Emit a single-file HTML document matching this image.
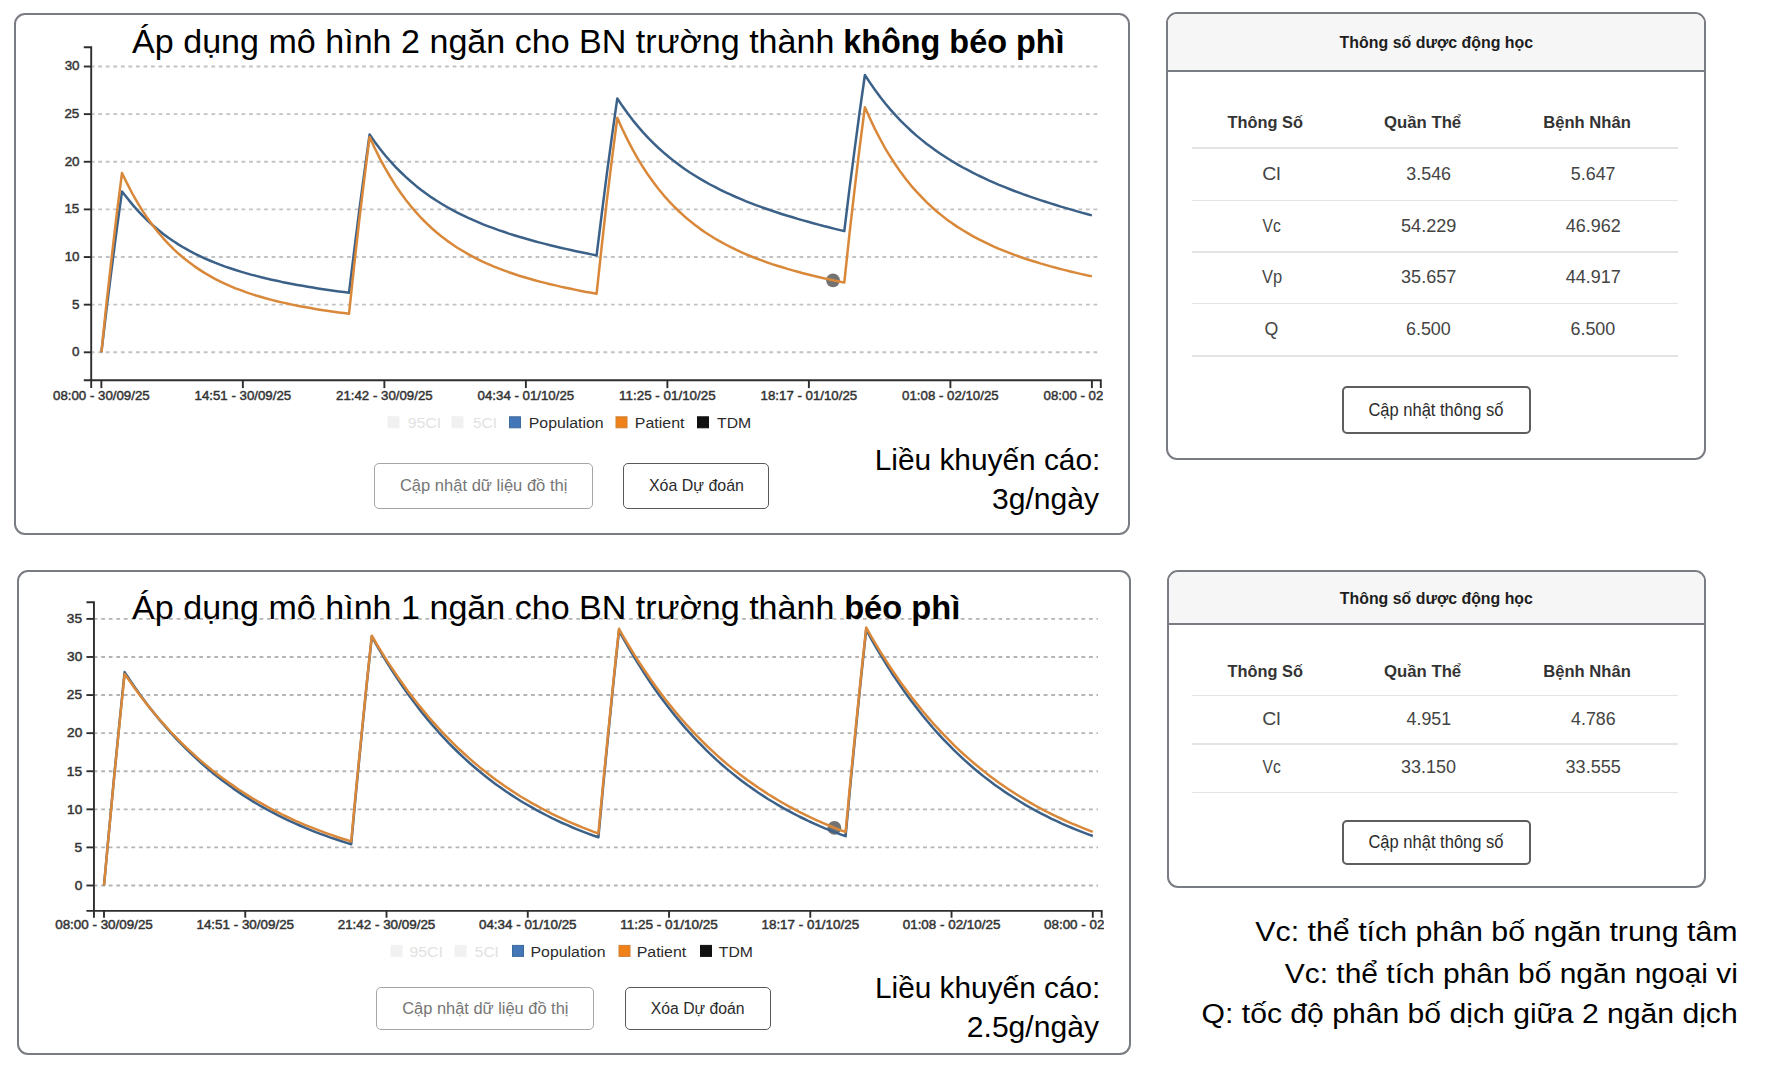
<!DOCTYPE html>
<html><head><meta charset="utf-8">
<style>
html,body{margin:0;padding:0;}
body{width:1767px;height:1069px;position:relative;overflow:hidden;background:#fff;font-family:"Liberation Sans",sans-serif;color:#000;}
.card{position:absolute;box-sizing:border-box;border:2px solid #797d83;border-radius:11px;background:#fff;overflow:hidden;}
.hdr{position:absolute;left:0;right:0;top:0;background:#f6f6f6;}
.hl{position:absolute;left:0;right:0;height:2px;background:#797d83;}
.sep{position:absolute;left:1192px;width:486px;height:1.5px;background:#e4e4e4;}
.btn{position:absolute;box-sizing:border-box;border-radius:5px;background:#fff;}
svg.ov{position:absolute;left:0;top:0;font-family:"Liberation Sans",sans-serif;}
.grid{stroke:#c2c2c2;stroke-width:1.9;stroke-dasharray:3.77 3.77;stroke-dashoffset:1.48;}
.gridB{stroke:#b4b4b4;stroke-dashoffset:1.32;}
.ax{stroke:#2e2e2e;stroke-width:1.9;fill:none;}
.pop{fill:none;stroke:#3b6189;stroke-width:2.5;stroke-linejoin:round;}
.pat{fill:none;stroke:#d9883a;stroke-width:2.5;stroke-linejoin:round;}
.tdm{fill:#5a5a5a;fill-opacity:0.85;}
</style></head><body>
<div class="card" style="left:14px;top:13px;width:1116px;height:522px;"></div>
<div class="card" style="left:17px;top:570px;width:1114px;height:485px;"></div>
<div class="card" style="left:1166px;top:12px;width:540px;height:448px;"><div class="hdr" style="height:58px;"></div><div class="hl" style="top:56px;"></div></div>
<div class="card" style="left:1167px;top:570px;width:539px;height:318px;"><div class="hdr" style="height:53px;"></div><div class="hl" style="top:51px;"></div></div>

<div class="sep" style="top:147.3px;"></div>
<div class="sep" style="top:199.8px;"></div>
<div class="sep" style="top:251px;"></div>
<div class="sep" style="top:302.6px;"></div>
<div class="sep" style="top:355.2px;"></div>
<div class="sep" style="top:694.6px;"></div>
<div class="sep" style="top:743.4px;"></div>
<div class="sep" style="top:791.7px;"></div>

<div class="btn" style="left:1342px;top:386px;width:189px;height:48px;border:2px solid #5e5e5e;"></div>
<div class="btn" style="left:1342px;top:820px;width:189px;height:45px;border:2px solid #5e5e5e;"></div>

<div class="btn" style="left:374px;top:462.5px;width:219px;height:46px;border:1.6px solid #a6a6a6;"></div>
<div class="btn" style="left:623px;top:462.5px;width:146px;height:46px;border:1.6px solid #5a5a5a;"></div>
<div class="btn" style="left:376px;top:987px;width:218px;height:43px;border:1.6px solid #a6a6a6;"></div>
<div class="btn" style="left:624.5px;top:987px;width:146px;height:43px;border:1.6px solid #5a5a5a;"></div>

<svg class="ov" width="1767" height="1069" viewBox="0 0 1767 1069">
<defs>
<clipPath id="clipT"><rect x="0" y="382" width="1103" height="40"/></clipPath>
<clipPath id="clipB"><rect x="0" y="913" width="1104" height="40"/></clipPath>
</defs>
<line x1="92.2" y1="352.30" x2="1098" y2="352.30" class="grid"/>
<line x1="92.2" y1="304.67" x2="1098" y2="304.67" class="grid"/>
<line x1="92.2" y1="257.03" x2="1098" y2="257.03" class="grid"/>
<line x1="92.2" y1="209.40" x2="1098" y2="209.40" class="grid"/>
<line x1="92.2" y1="161.77" x2="1098" y2="161.77" class="grid"/>
<line x1="92.2" y1="114.13" x2="1098" y2="114.13" class="grid"/>
<line x1="92.2" y1="66.50" x2="1098" y2="66.50" class="grid"/>
<path d="M83.80,47.20 H91.20 V380.20 H83.80" class="ax"/>
<path d="M91.20,388.10 V380.20 H1100.80 V388.10" class="ax"/>
<line x1="83.80" y1="352.30" x2="91.20" y2="352.30" class="ax"/>
<text x="72.09" y="356.20" font-size="13.40" font-weight="normal" fill="#333" stroke="#333" stroke-width="0.45" textLength="7.45" lengthAdjust="spacingAndGlyphs">0</text>
<line x1="83.80" y1="304.67" x2="91.20" y2="304.67" class="ax"/>
<text x="71.88" y="308.57" font-size="13.40" font-weight="normal" fill="#333" stroke="#333" stroke-width="0.45" textLength="7.45" lengthAdjust="spacingAndGlyphs">5</text>
<line x1="83.80" y1="257.03" x2="91.20" y2="257.03" class="ax"/>
<text x="64.64" y="260.93" font-size="13.40" font-weight="normal" fill="#333" stroke="#333" stroke-width="0.45" textLength="14.90" lengthAdjust="spacingAndGlyphs">10</text>
<line x1="83.80" y1="209.40" x2="91.20" y2="209.40" class="ax"/>
<text x="64.43" y="213.30" font-size="13.40" font-weight="normal" fill="#333" stroke="#333" stroke-width="0.45" textLength="14.90" lengthAdjust="spacingAndGlyphs">15</text>
<line x1="83.80" y1="161.77" x2="91.20" y2="161.77" class="ax"/>
<text x="64.64" y="165.67" font-size="13.40" font-weight="normal" fill="#333" stroke="#333" stroke-width="0.45" textLength="14.90" lengthAdjust="spacingAndGlyphs">20</text>
<line x1="83.80" y1="114.13" x2="91.20" y2="114.13" class="ax"/>
<text x="64.43" y="118.03" font-size="13.40" font-weight="normal" fill="#333" stroke="#333" stroke-width="0.45" textLength="14.90" lengthAdjust="spacingAndGlyphs">25</text>
<line x1="83.80" y1="66.50" x2="91.20" y2="66.50" class="ax"/>
<text x="64.64" y="70.40" font-size="13.40" font-weight="normal" fill="#333" stroke="#333" stroke-width="0.45" textLength="14.90" lengthAdjust="spacingAndGlyphs">30</text>
<line x1="101.36" y1="380.20" x2="101.36" y2="388.10" class="ax"/>
<line x1="242.87" y1="380.20" x2="242.87" y2="388.10" class="ax"/>
<line x1="384.37" y1="380.20" x2="384.37" y2="388.10" class="ax"/>
<line x1="525.88" y1="380.20" x2="525.88" y2="388.10" class="ax"/>
<line x1="667.38" y1="380.20" x2="667.38" y2="388.10" class="ax"/>
<line x1="808.89" y1="380.20" x2="808.89" y2="388.10" class="ax"/>
<line x1="950.39" y1="380.20" x2="950.39" y2="388.10" class="ax"/>
<line x1="1091.90" y1="380.20" x2="1091.90" y2="388.10" class="ax"/>
<g clip-path="url(#clipT)">
<text x="101.36" y="399.80" font-size="13.00" font-weight="normal" fill="#333" stroke="#333" stroke-width="0.45" text-anchor="middle" textLength="96.60" lengthAdjust="spacingAndGlyphs">08:00 - 30/09/25</text>
<text x="242.87" y="399.80" font-size="13.00" font-weight="normal" fill="#333" stroke="#333" stroke-width="0.45" text-anchor="middle" textLength="96.60" lengthAdjust="spacingAndGlyphs">14:51 - 30/09/25</text>
<text x="384.37" y="399.80" font-size="13.00" font-weight="normal" fill="#333" stroke="#333" stroke-width="0.45" text-anchor="middle" textLength="96.60" lengthAdjust="spacingAndGlyphs">21:42 - 30/09/25</text>
<text x="525.88" y="399.80" font-size="13.00" font-weight="normal" fill="#333" stroke="#333" stroke-width="0.45" text-anchor="middle" textLength="96.60" lengthAdjust="spacingAndGlyphs">04:34 - 01/10/25</text>
<text x="667.38" y="399.80" font-size="13.00" font-weight="normal" fill="#333" stroke="#333" stroke-width="0.45" text-anchor="middle" textLength="96.60" lengthAdjust="spacingAndGlyphs">11:25 - 01/10/25</text>
<text x="808.89" y="399.80" font-size="13.00" font-weight="normal" fill="#333" stroke="#333" stroke-width="0.45" text-anchor="middle" textLength="96.60" lengthAdjust="spacingAndGlyphs">18:17 - 01/10/25</text>
<text x="950.39" y="399.80" font-size="13.00" font-weight="normal" fill="#333" stroke="#333" stroke-width="0.45" text-anchor="middle" textLength="96.60" lengthAdjust="spacingAndGlyphs">01:08 - 02/10/25</text>
<text x="1091.90" y="399.80" font-size="13.00" font-weight="normal" fill="#333" stroke="#333" stroke-width="0.45" text-anchor="middle" textLength="96.60" lengthAdjust="spacingAndGlyphs">08:00 - 02/10/25</text>
</g>
<circle cx="833.0" cy="280.3" r="6.9" class="tdm"/>
<path d="M101.4,352.3 L106.5,309.4 L111.7,268.3 L116.8,229.0 L122.0,191.4 L127.2,198.1 L132.3,204.4 L137.5,210.3 L142.6,215.7 L147.8,220.8 L153.0,225.5 L158.1,229.8 L163.3,233.9 L168.4,237.7 L173.6,241.3 L178.7,244.6 L183.9,247.7 L189.1,250.6 L194.2,253.3 L199.4,255.9 L204.5,258.3 L209.7,260.5 L214.9,262.7 L220.0,264.7 L225.2,266.6 L230.3,268.3 L235.5,270.0 L240.7,271.6 L245.8,273.1 L251.0,274.6 L256.1,275.9 L261.3,277.2 L266.4,278.5 L271.6,279.7 L276.8,280.8 L281.9,281.9 L287.1,282.9 L292.2,283.9 L297.4,284.9 L302.6,285.8 L307.7,286.7 L312.9,287.5 L318.0,288.4 L323.2,289.2 L328.4,289.9 L333.5,290.7 L338.7,291.4 L343.8,292.1 L349.0,292.8 L354.2,250.6 L359.3,210.2 L364.5,171.5 L369.6,134.5 L374.8,141.9 L379.9,148.7 L385.1,155.2 L390.3,161.2 L395.4,166.8 L400.6,172.0 L405.7,176.9 L410.9,181.5 L416.1,185.9 L421.2,189.9 L426.4,193.8 L431.5,197.4 L436.7,200.8 L441.9,204.0 L447.0,207.0 L452.2,209.9 L457.3,212.6 L462.5,215.1 L467.7,217.6 L472.8,219.9 L478.0,222.1 L483.1,224.3 L488.3,226.3 L493.4,228.2 L498.6,230.1 L503.8,231.8 L508.9,233.6 L514.1,235.2 L519.2,236.8 L524.4,238.3 L529.6,239.8 L534.7,241.2 L539.9,242.6 L545.0,243.9 L550.2,245.2 L555.4,246.5 L560.5,247.7 L565.7,248.9 L570.8,250.0 L576.0,251.2 L581.2,252.3 L586.3,253.3 L591.5,254.4 L596.6,255.4 L601.8,213.5 L606.9,173.4 L612.1,135.1 L617.3,98.4 L622.4,106.1 L627.6,113.3 L632.7,120.1 L637.9,126.4 L643.1,132.3 L648.2,137.8 L653.4,143.1 L658.5,148.0 L663.7,152.6 L668.9,157.0 L674.0,161.1 L679.2,165.0 L684.3,168.7 L689.5,172.2 L694.7,175.5 L699.8,178.6 L705.0,181.6 L710.1,184.5 L715.3,187.2 L720.4,189.8 L725.6,192.3 L730.8,194.7 L735.9,197.0 L741.1,199.2 L746.2,201.3 L751.4,203.3 L756.6,205.3 L761.7,207.2 L766.9,209.0 L772.0,210.8 L777.2,212.5 L782.4,214.2 L787.5,215.8 L792.7,217.3 L797.8,218.9 L803.0,220.4 L808.2,221.8 L813.3,223.2 L818.5,224.6 L823.6,226.0 L828.8,227.3 L833.9,228.6 L839.1,229.9 L844.3,231.1 L849.4,189.4 L854.6,149.6 L859.7,111.5 L864.9,75.0 L870.1,82.9 L875.2,90.3 L880.4,97.3 L885.5,103.8 L890.7,109.9 L895.9,115.7 L901.0,121.1 L906.2,126.2 L911.3,131.0 L916.5,135.6 L921.7,139.9 L926.8,144.0 L932.0,147.8 L937.1,151.5 L942.3,155.0 L947.4,158.3 L952.6,161.5 L957.8,164.6 L962.9,167.5 L968.1,170.2 L973.2,172.9 L978.4,175.5 L983.6,177.9 L988.7,180.3 L993.9,182.6 L999.0,184.8 L1004.2,186.9 L1009.4,189.0 L1014.5,191.0 L1019.7,192.9 L1024.8,194.8 L1030.0,196.6 L1035.2,198.4 L1040.3,200.1 L1045.5,201.8 L1050.6,203.4 L1055.8,205.0 L1060.9,206.6 L1066.1,208.1 L1071.3,209.6 L1076.4,211.1 L1081.6,212.6 L1086.7,214.0 L1091.9,215.4" class="pop"/>
<path d="M101.4,352.3 L106.5,303.2 L111.7,257.1 L116.8,213.7 L122.0,173.0 L127.2,183.7 L132.3,193.5 L137.5,202.6 L142.6,210.9 L147.8,218.6 L153.0,225.7 L158.1,232.3 L163.3,238.3 L168.4,243.9 L173.6,249.1 L178.7,253.8 L183.9,258.3 L189.1,262.3 L194.2,266.1 L199.4,269.6 L204.5,272.9 L209.7,275.9 L214.9,278.8 L220.0,281.4 L225.2,283.8 L230.3,286.1 L235.5,288.3 L240.7,290.2 L245.8,292.1 L251.0,293.9 L256.1,295.5 L261.3,297.0 L266.4,298.5 L271.6,299.9 L276.8,301.2 L281.9,302.4 L287.1,303.5 L292.2,304.6 L297.4,305.7 L302.6,306.7 L307.7,307.6 L312.9,308.5 L318.0,309.4 L323.2,310.2 L328.4,311.0 L333.5,311.7 L338.7,312.4 L343.8,313.1 L349.0,313.8 L354.2,265.3 L359.3,219.8 L364.5,177.1 L369.6,136.9 L374.8,148.2 L379.9,158.6 L385.1,168.2 L390.3,177.0 L395.4,185.2 L400.6,192.8 L405.7,199.8 L410.9,206.3 L416.1,212.4 L421.2,218.0 L426.4,223.2 L431.5,228.0 L436.7,232.5 L441.9,236.7 L447.0,240.6 L452.2,244.2 L457.3,247.7 L462.5,250.8 L467.7,253.8 L472.8,256.6 L478.0,259.3 L483.1,261.8 L488.3,264.1 L493.4,266.3 L498.6,268.4 L503.8,270.3 L508.9,272.2 L514.1,274.0 L519.2,275.7 L524.4,277.3 L529.6,278.8 L534.7,280.2 L539.9,281.6 L545.0,282.9 L550.2,284.2 L555.4,285.4 L560.5,286.6 L565.7,287.7 L570.8,288.8 L576.0,289.9 L581.2,290.9 L586.3,291.9 L591.5,292.8 L596.6,293.7 L601.8,245.5 L606.9,200.2 L612.1,157.8 L617.3,117.8 L622.4,129.3 L627.6,139.9 L632.7,149.7 L637.9,158.8 L643.1,167.3 L648.2,175.1 L653.4,182.3 L658.5,189.0 L663.7,195.3 L668.9,201.1 L674.0,206.5 L679.2,211.5 L684.3,216.2 L689.5,220.6 L694.7,224.7 L699.8,228.6 L705.0,232.2 L710.1,235.5 L715.3,238.7 L720.4,241.7 L725.6,244.5 L730.8,247.2 L735.9,249.7 L741.1,252.1 L746.2,254.3 L751.4,256.5 L756.6,258.5 L761.7,260.4 L766.9,262.3 L772.0,264.1 L777.2,265.7 L782.4,267.3 L787.5,268.9 L792.7,270.4 L797.8,271.8 L803.0,273.2 L808.2,274.5 L813.3,275.8 L818.5,277.0 L823.6,278.2 L828.8,279.3 L833.9,280.5 L839.1,281.5 L844.3,282.6 L849.4,234.5 L854.6,189.4 L859.7,147.0 L864.9,107.2 L870.1,118.8 L875.2,129.6 L880.4,139.5 L885.5,148.8 L890.7,157.3 L895.9,165.2 L901.0,172.6 L906.2,179.4 L911.3,185.8 L916.5,191.7 L921.7,197.2 L926.8,202.4 L932.0,207.2 L937.1,211.7 L942.3,215.9 L947.4,219.9 L952.6,223.6 L957.8,227.1 L962.9,230.3 L968.1,233.4 L973.2,236.4 L978.4,239.1 L983.6,241.7 L988.7,244.2 L993.9,246.6 L999.0,248.8 L1004.2,250.9 L1009.4,252.9 L1014.5,254.9 L1019.7,256.7 L1024.8,258.5 L1030.0,260.2 L1035.2,261.8 L1040.3,263.4 L1045.5,264.9 L1050.6,266.4 L1055.8,267.8 L1060.9,269.1 L1066.1,270.4 L1071.3,271.7 L1076.4,272.9 L1081.6,274.1 L1086.7,275.3 L1091.9,276.4" class="pat"/>
<line x1="95.0" y1="885.50" x2="1098" y2="885.50" class="grid gridB"/>
<line x1="95.0" y1="847.41" x2="1098" y2="847.41" class="grid gridB"/>
<line x1="95.0" y1="809.33" x2="1098" y2="809.33" class="grid gridB"/>
<line x1="95.0" y1="771.24" x2="1098" y2="771.24" class="grid gridB"/>
<line x1="95.0" y1="733.16" x2="1098" y2="733.16" class="grid gridB"/>
<line x1="95.0" y1="695.07" x2="1098" y2="695.07" class="grid gridB"/>
<line x1="95.0" y1="656.99" x2="1098" y2="656.99" class="grid gridB"/>
<line x1="95.0" y1="618.90" x2="1098" y2="618.90" class="grid gridB"/>
<path d="M86.45,602.20 H93.95 V910.90 H86.45" class="ax"/>
<path d="M93.95,917.70 V910.90 H1101.70 V917.70" class="ax"/>
<line x1="86.45" y1="885.50" x2="93.95" y2="885.50" class="ax"/>
<text x="74.65" y="889.80" font-size="12.20" font-weight="normal" fill="#333" stroke="#333" stroke-width="0.45" textLength="7.60" lengthAdjust="spacingAndGlyphs">0</text>
<line x1="86.45" y1="847.41" x2="93.95" y2="847.41" class="ax"/>
<text x="74.44" y="851.71" font-size="12.20" font-weight="normal" fill="#333" stroke="#333" stroke-width="0.45" textLength="7.60" lengthAdjust="spacingAndGlyphs">5</text>
<line x1="86.45" y1="809.33" x2="93.95" y2="809.33" class="ax"/>
<text x="67.06" y="813.63" font-size="12.20" font-weight="normal" fill="#333" stroke="#333" stroke-width="0.45" textLength="15.20" lengthAdjust="spacingAndGlyphs">10</text>
<line x1="86.45" y1="771.24" x2="93.95" y2="771.24" class="ax"/>
<text x="66.84" y="775.54" font-size="12.20" font-weight="normal" fill="#333" stroke="#333" stroke-width="0.45" textLength="15.20" lengthAdjust="spacingAndGlyphs">15</text>
<line x1="86.45" y1="733.16" x2="93.95" y2="733.16" class="ax"/>
<text x="67.06" y="737.46" font-size="12.20" font-weight="normal" fill="#333" stroke="#333" stroke-width="0.45" textLength="15.20" lengthAdjust="spacingAndGlyphs">20</text>
<line x1="86.45" y1="695.07" x2="93.95" y2="695.07" class="ax"/>
<text x="66.84" y="699.37" font-size="12.20" font-weight="normal" fill="#333" stroke="#333" stroke-width="0.45" textLength="15.20" lengthAdjust="spacingAndGlyphs">25</text>
<line x1="86.45" y1="656.99" x2="93.95" y2="656.99" class="ax"/>
<text x="67.06" y="661.29" font-size="12.20" font-weight="normal" fill="#333" stroke="#333" stroke-width="0.45" textLength="15.20" lengthAdjust="spacingAndGlyphs">30</text>
<line x1="86.45" y1="618.90" x2="93.95" y2="618.90" class="ax"/>
<text x="66.84" y="623.20" font-size="12.20" font-weight="normal" fill="#333" stroke="#333" stroke-width="0.45" textLength="15.20" lengthAdjust="spacingAndGlyphs">35</text>
<line x1="104.00" y1="910.90" x2="104.00" y2="917.70" class="ax"/>
<line x1="245.26" y1="910.90" x2="245.26" y2="917.70" class="ax"/>
<line x1="386.51" y1="910.90" x2="386.51" y2="917.70" class="ax"/>
<line x1="527.77" y1="910.90" x2="527.77" y2="917.70" class="ax"/>
<line x1="669.03" y1="910.90" x2="669.03" y2="917.70" class="ax"/>
<line x1="810.29" y1="910.90" x2="810.29" y2="917.70" class="ax"/>
<line x1="951.54" y1="910.90" x2="951.54" y2="917.70" class="ax"/>
<line x1="1092.80" y1="910.90" x2="1092.80" y2="917.70" class="ax"/>
<g clip-path="url(#clipB)">
<text x="104.00" y="929.40" font-size="12.00" font-weight="normal" fill="#333" stroke="#333" stroke-width="0.45" text-anchor="middle" textLength="97.60" lengthAdjust="spacingAndGlyphs">08:00 - 30/09/25</text>
<text x="245.26" y="929.40" font-size="12.00" font-weight="normal" fill="#333" stroke="#333" stroke-width="0.45" text-anchor="middle" textLength="97.60" lengthAdjust="spacingAndGlyphs">14:51 - 30/09/25</text>
<text x="386.51" y="929.40" font-size="12.00" font-weight="normal" fill="#333" stroke="#333" stroke-width="0.45" text-anchor="middle" textLength="97.60" lengthAdjust="spacingAndGlyphs">21:42 - 30/09/25</text>
<text x="527.77" y="929.40" font-size="12.00" font-weight="normal" fill="#333" stroke="#333" stroke-width="0.45" text-anchor="middle" textLength="97.60" lengthAdjust="spacingAndGlyphs">04:34 - 01/10/25</text>
<text x="669.03" y="929.40" font-size="12.00" font-weight="normal" fill="#333" stroke="#333" stroke-width="0.45" text-anchor="middle" textLength="97.60" lengthAdjust="spacingAndGlyphs">11:25 - 01/10/25</text>
<text x="810.29" y="929.40" font-size="12.00" font-weight="normal" fill="#333" stroke="#333" stroke-width="0.45" text-anchor="middle" textLength="97.60" lengthAdjust="spacingAndGlyphs">18:17 - 01/10/25</text>
<text x="951.54" y="929.40" font-size="12.00" font-weight="normal" fill="#333" stroke="#333" stroke-width="0.45" text-anchor="middle" textLength="97.60" lengthAdjust="spacingAndGlyphs">01:08 - 02/10/25</text>
<text x="1092.80" y="929.40" font-size="12.00" font-weight="normal" fill="#333" stroke="#333" stroke-width="0.45" text-anchor="middle" textLength="97.60" lengthAdjust="spacingAndGlyphs">08:00 - 02/10/25</text>
</g>
<circle cx="834.4" cy="827.9" r="6.9" class="tdm"/>
<path d="M104.0,885.5 L109.2,829.1 L114.3,774.8 L119.5,722.5 L124.6,672.1 L129.8,679.9 L134.9,687.4 L140.1,694.7 L145.2,701.7 L150.3,708.4 L155.5,714.9 L160.6,721.1 L165.8,727.2 L170.9,733.0 L176.1,738.6 L181.2,743.9 L186.4,749.1 L191.6,754.1 L196.7,758.9 L201.8,763.6 L207.0,768.1 L212.1,772.4 L217.3,776.5 L222.4,780.5 L227.6,784.3 L232.8,788.1 L237.9,791.6 L243.0,795.1 L248.2,798.4 L253.3,801.6 L258.5,804.7 L263.6,807.6 L268.8,810.5 L273.9,813.2 L279.1,815.9 L284.2,818.4 L289.4,820.9 L294.5,823.2 L299.7,825.5 L304.8,827.7 L310.0,829.8 L315.1,831.9 L320.3,833.8 L325.4,835.7 L330.6,837.6 L335.8,839.3 L340.9,841.0 L346.0,842.6 L351.2,844.2 L356.3,789.3 L361.5,736.5 L366.6,685.6 L371.8,636.5 L376.9,645.6 L382.1,654.4 L387.2,662.9 L392.4,671.0 L397.5,678.9 L402.7,686.5 L407.8,693.8 L413.0,700.8 L418.1,707.6 L423.3,714.1 L428.4,720.4 L433.6,726.4 L438.7,732.3 L443.9,737.9 L449.0,743.3 L454.2,748.5 L459.3,753.5 L464.5,758.3 L469.6,763.0 L474.8,767.5 L479.9,771.8 L485.1,776.0 L490.2,780.0 L495.4,783.9 L500.5,787.6 L505.7,791.2 L510.8,794.6 L516.0,798.0 L521.1,801.2 L526.3,804.3 L531.4,807.2 L536.6,810.1 L541.8,812.9 L546.9,815.5 L552.0,818.1 L557.2,820.6 L562.3,823.0 L567.5,825.2 L572.6,827.5 L577.8,829.6 L582.9,831.6 L588.1,833.6 L593.2,835.5 L598.4,837.3 L603.5,782.7 L608.7,730.1 L613.8,679.4 L619.0,630.6 L624.1,639.9 L629.3,648.9 L634.4,657.6 L639.6,665.9 L644.8,674.0 L649.9,681.7 L655.0,689.2 L660.2,696.4 L665.3,703.3 L670.5,710.0 L675.6,716.4 L680.8,722.6 L685.9,728.6 L691.1,734.4 L696.2,739.9 L701.4,745.2 L706.5,750.4 L711.7,755.3 L716.8,760.1 L722.0,764.7 L727.1,769.1 L732.3,773.4 L737.4,777.5 L742.6,781.5 L747.7,785.3 L752.9,788.9 L758.0,792.5 L763.2,795.9 L768.3,799.2 L773.5,802.3 L778.6,805.4 L783.8,808.3 L788.9,811.1 L794.1,813.9 L799.2,816.5 L804.4,819.0 L809.5,821.5 L814.7,823.8 L819.8,826.1 L825.0,828.3 L830.1,830.3 L835.3,832.4 L840.4,834.3 L845.6,836.2 L850.7,781.6 L855.9,729.0 L861.0,678.4 L866.2,629.6 L871.3,639.0 L876.5,648.0 L881.6,656.7 L886.8,665.1 L891.9,673.2 L897.1,680.9 L902.2,688.4 L907.4,695.7 L912.5,702.6 L917.7,709.3 L922.8,715.8 L928.0,722.0 L933.1,728.0 L938.3,733.8 L943.4,739.3 L948.6,744.7 L953.7,749.8 L958.9,754.8 L964.0,759.6 L969.2,764.2 L974.3,768.7 L979.5,773.0 L984.6,777.1 L989.8,781.1 L994.9,784.9 L1000.1,788.6 L1005.2,792.1 L1010.4,795.5 L1015.5,798.8 L1020.7,802.0 L1025.8,805.1 L1031.0,808.0 L1036.1,810.9 L1041.3,813.6 L1046.4,816.2 L1051.6,818.8 L1056.8,821.2 L1061.9,823.6 L1067.0,825.8 L1072.2,828.0 L1077.3,830.1 L1082.5,832.2 L1087.6,834.1 L1092.8,836.0" class="pop"/>
<path d="M104.0,885.5 L109.2,829.7 L114.3,775.9 L119.5,724.0 L124.6,673.9 L129.8,681.3 L134.9,688.5 L140.1,695.4 L145.2,702.1 L150.3,708.5 L155.5,714.7 L160.6,720.7 L165.8,726.4 L170.9,732.0 L176.1,737.4 L181.2,742.6 L186.4,747.6 L191.6,752.4 L196.7,757.1 L201.8,761.6 L207.0,765.9 L212.1,770.1 L217.3,774.2 L222.4,778.1 L227.6,781.8 L232.8,785.4 L237.9,789.0 L243.0,792.3 L248.2,795.6 L253.3,798.7 L258.5,801.8 L263.6,804.7 L268.8,807.5 L273.9,810.3 L279.1,812.9 L284.2,815.5 L289.4,817.9 L294.5,820.3 L299.7,822.6 L304.8,824.8 L310.0,826.9 L315.1,828.9 L320.3,830.9 L325.4,832.8 L330.6,834.7 L335.8,836.5 L340.9,838.2 L346.0,839.8 L351.2,841.4 L356.3,787.2 L361.5,734.9 L366.6,684.4 L371.8,635.7 L376.9,644.5 L382.1,652.9 L387.2,661.1 L392.4,668.9 L397.5,676.5 L402.7,683.8 L407.8,690.9 L413.0,697.7 L418.1,704.3 L423.3,710.6 L428.4,716.8 L433.6,722.7 L438.7,728.4 L443.9,733.9 L449.0,739.2 L454.2,744.3 L459.3,749.3 L464.5,754.0 L469.6,758.6 L474.8,763.1 L479.9,767.4 L485.1,771.5 L490.2,775.5 L495.4,779.4 L500.5,783.1 L505.7,786.7 L510.8,790.1 L516.0,793.5 L521.1,796.7 L526.3,799.8 L531.4,802.8 L536.6,805.7 L541.8,808.5 L546.9,811.2 L552.0,813.8 L557.2,816.3 L562.3,818.7 L567.5,821.1 L572.6,823.3 L577.8,825.5 L582.9,827.6 L588.1,829.6 L593.2,831.6 L598.4,833.5 L603.5,779.6 L608.7,727.5 L613.8,677.3 L619.0,628.8 L624.1,637.8 L629.3,646.5 L634.4,654.9 L639.6,663.0 L644.8,670.7 L649.9,678.3 L655.0,685.5 L660.2,692.5 L665.3,699.3 L670.5,705.8 L675.6,712.1 L680.8,718.2 L685.9,724.0 L691.1,729.7 L696.2,735.2 L701.4,740.4 L706.5,745.5 L711.7,750.4 L716.8,755.1 L722.0,759.7 L727.1,764.1 L732.3,768.4 L737.4,772.5 L742.6,776.4 L747.7,780.3 L752.9,783.9 L758.0,787.5 L763.2,790.9 L768.3,794.2 L773.5,797.4 L778.6,800.5 L783.8,803.5 L788.9,806.4 L794.1,809.1 L799.2,811.8 L804.4,814.4 L809.5,816.9 L814.7,819.3 L819.8,821.6 L825.0,823.9 L830.1,826.0 L835.3,828.1 L840.4,830.1 L845.6,832.0 L850.7,778.2 L855.9,726.2 L861.0,676.0 L866.2,627.6 L871.3,636.6 L876.5,645.3 L881.6,653.8 L886.8,661.9 L891.9,669.7 L897.1,677.3 L902.2,684.6 L907.4,691.6 L912.5,698.4 L917.7,704.9 L922.8,711.3 L928.0,717.4 L933.1,723.3 L938.3,728.9 L943.4,734.4 L948.6,739.7 L953.7,744.8 L958.9,749.8 L964.0,754.5 L969.2,759.1 L974.3,763.5 L979.5,767.8 L984.6,771.9 L989.8,775.9 L994.9,779.7 L1000.1,783.4 L1005.2,787.0 L1010.4,790.5 L1015.5,793.8 L1020.7,797.0 L1025.8,800.1 L1031.0,803.1 L1036.1,806.0 L1041.3,808.8 L1046.4,811.5 L1051.6,814.1 L1056.8,816.6 L1061.9,819.0 L1067.0,821.3 L1072.2,823.6 L1077.3,825.7 L1082.5,827.8 L1087.6,829.8 L1092.8,831.8" class="pat"/>
<rect x="388.0" y="416.8" width="11" height="11" fill="#f1f1f1" stroke="#f1f1f1" stroke-width="1"/>
<rect x="452.0" y="416.8" width="11" height="11" fill="#f1f1f1" stroke="#f1f1f1" stroke-width="1"/>
<rect x="509.5" y="416.8" width="11" height="11" fill="#4377b8" stroke="#3d6a9c" stroke-width="1"/>
<rect x="616.0" y="416.8" width="11" height="11" fill="#f08018" stroke="#cf8035" stroke-width="1"/>
<rect x="697.5" y="416.8" width="11" height="11" fill="#111" stroke="#111" stroke-width="1"/>
<rect x="391.0" y="945.4" width="11" height="11" fill="#f1f1f1" stroke="#f1f1f1" stroke-width="1"/>
<rect x="455.0" y="945.4" width="11" height="11" fill="#f1f1f1" stroke="#f1f1f1" stroke-width="1"/>
<rect x="512.5" y="945.4" width="11" height="11" fill="#4377b8" stroke="#3d6a9c" stroke-width="1"/>
<rect x="619.0" y="945.4" width="11" height="11" fill="#f08018" stroke="#cf8035" stroke-width="1"/>
<rect x="700.5" y="945.4" width="11" height="11" fill="#111" stroke="#111" stroke-width="1"/>
<text x="132.10" y="52.80" font-size="33.80" font-weight="normal" fill="#000" textLength="702.31" lengthAdjust="spacingAndGlyphs">Áp dụng mô hình 2 ngăn cho BN trường thành</text>
<text x="843.18" y="52.80" font-size="33.80" font-weight="bold" fill="#000" textLength="221.34" lengthAdjust="spacingAndGlyphs">không béo phì</text>
<text x="132.10" y="619.30" font-size="33.80" font-weight="normal" fill="#000" textLength="702.31" lengthAdjust="spacingAndGlyphs">Áp dụng mô hình 1 ngăn cho BN trường thành</text>
<text x="844.16" y="619.30" font-size="33.80" font-weight="bold" fill="#000" textLength="116.07" lengthAdjust="spacingAndGlyphs">béo phì</text>
<text x="874.67" y="470.40" font-size="28.70" font-weight="normal" fill="#000" textLength="225.73" lengthAdjust="spacingAndGlyphs">Liều khuyến cáo:</text>
<text x="992.06" y="509.30" font-size="28.70" font-weight="normal" fill="#000" textLength="106.94" lengthAdjust="spacingAndGlyphs">3g/ngày</text>
<text x="874.97" y="997.50" font-size="28.70" font-weight="normal" fill="#000" textLength="225.42" lengthAdjust="spacingAndGlyphs">Liều khuyến cáo:</text>
<text x="966.79" y="1037.20" font-size="28.70" font-weight="normal" fill="#000" textLength="132.21" lengthAdjust="spacingAndGlyphs">2.5g/ngày</text>
<text x="1255.30" y="940.80" font-size="28.40" font-weight="normal" fill="#000" textLength="482.27" lengthAdjust="spacingAndGlyphs">Vc: thể tích phân bố ngăn trung tâm</text>
<text x="1284.70" y="983.30" font-size="28.40" font-weight="normal" fill="#000" textLength="453.28" lengthAdjust="spacingAndGlyphs">Vc: thể tích phân bố ngăn ngoại vi</text>
<text x="1201.59" y="1023.40" font-size="28.40" font-weight="normal" fill="#000" textLength="536.10" lengthAdjust="spacingAndGlyphs">Q: tốc độ phân bố dịch giữa 2 ngăn dịch</text>
<text x="399.92" y="491.40" font-size="16.60" font-weight="normal" fill="#767676" textLength="167.47" lengthAdjust="spacingAndGlyphs">Cập nhật dữ liệu đồ thị</text>
<text x="648.95" y="491.40" font-size="16.60" font-weight="normal" fill="#2b2b2b" textLength="95.05" lengthAdjust="spacingAndGlyphs">Xóa Dự đoán</text>
<text x="402.23" y="1014.00" font-size="16.00" font-weight="normal" fill="#767676" textLength="166.25" lengthAdjust="spacingAndGlyphs">Cập nhật dữ liệu đồ thị</text>
<text x="650.75" y="1014.00" font-size="16.00" font-weight="normal" fill="#2b2b2b" textLength="93.73" lengthAdjust="spacingAndGlyphs">Xóa Dự đoán</text>
<text x="407.76" y="428.40" font-size="15.40" font-weight="normal" fill="#e2e2e2" textLength="33.37" lengthAdjust="spacingAndGlyphs">95CI</text>
<text x="473.02" y="428.40" font-size="15.40" font-weight="normal" fill="#e2e2e2" textLength="23.97" lengthAdjust="spacingAndGlyphs">5CI</text>
<text x="528.76" y="428.40" font-size="15.40" font-weight="normal" fill="#2b2b2b" textLength="74.93" lengthAdjust="spacingAndGlyphs">Population</text>
<text x="634.86" y="428.40" font-size="15.40" font-weight="normal" fill="#2b2b2b" textLength="49.59" lengthAdjust="spacingAndGlyphs">Patient</text>
<text x="717.05" y="428.40" font-size="15.40" font-weight="normal" fill="#2b2b2b" textLength="34.11" lengthAdjust="spacingAndGlyphs">TDM</text>
<text x="409.56" y="956.50" font-size="15.40" font-weight="normal" fill="#e2e2e2" textLength="33.37" lengthAdjust="spacingAndGlyphs">95CI</text>
<text x="474.82" y="956.50" font-size="15.40" font-weight="normal" fill="#e2e2e2" textLength="23.97" lengthAdjust="spacingAndGlyphs">5CI</text>
<text x="530.56" y="956.50" font-size="15.40" font-weight="normal" fill="#2b2b2b" textLength="74.93" lengthAdjust="spacingAndGlyphs">Population</text>
<text x="636.66" y="956.50" font-size="15.40" font-weight="normal" fill="#2b2b2b" textLength="49.59" lengthAdjust="spacingAndGlyphs">Patient</text>
<text x="718.85" y="956.50" font-size="15.40" font-weight="normal" fill="#2b2b2b" textLength="34.11" lengthAdjust="spacingAndGlyphs">TDM</text>
<text x="1339.60" y="48.00" font-size="16.60" font-weight="bold" fill="#1e1e1e" textLength="193.60" lengthAdjust="spacingAndGlyphs">Thông số dược động học</text>
<text x="1339.80" y="603.50" font-size="16.60" font-weight="bold" fill="#1e1e1e" textLength="193.10" lengthAdjust="spacingAndGlyphs">Thông số dược động học</text>
<text x="1227.50" y="127.80" font-size="17.00" font-weight="bold" fill="#333" textLength="75.38" lengthAdjust="spacingAndGlyphs">Thông Số</text>
<text x="1384.08" y="127.80" font-size="17.00" font-weight="bold" fill="#333" textLength="77.08" lengthAdjust="spacingAndGlyphs">Quần Thể</text>
<text x="1543.26" y="127.80" font-size="17.00" font-weight="bold" fill="#333" textLength="87.54" lengthAdjust="spacingAndGlyphs">Bệnh Nhân</text>
<text x="1227.50" y="676.90" font-size="17.00" font-weight="bold" fill="#333" textLength="75.38" lengthAdjust="spacingAndGlyphs">Thông Số</text>
<text x="1384.08" y="676.90" font-size="17.00" font-weight="bold" fill="#333" textLength="77.08" lengthAdjust="spacingAndGlyphs">Quần Thể</text>
<text x="1543.26" y="676.90" font-size="17.00" font-weight="bold" fill="#333" textLength="87.54" lengthAdjust="spacingAndGlyphs">Bệnh Nhân</text>
<text x="1262.19" y="180.00" font-size="18.00" font-weight="normal" fill="#444" textLength="18.40" lengthAdjust="spacingAndGlyphs">Cl</text>
<text x="1406.29" y="180.00" font-size="18.00" font-weight="normal" fill="#444" textLength="44.78" lengthAdjust="spacingAndGlyphs">3.546</text>
<text x="1570.79" y="180.00" font-size="18.00" font-weight="normal" fill="#444" textLength="44.78" lengthAdjust="spacingAndGlyphs">5.647</text>
<text x="1262.50" y="232.20" font-size="18.00" font-weight="normal" fill="#444" textLength="18.24" lengthAdjust="spacingAndGlyphs">Vc</text>
<text x="1401.04" y="232.20" font-size="18.00" font-weight="normal" fill="#444" textLength="55.30" lengthAdjust="spacingAndGlyphs">54.229</text>
<text x="1565.82" y="232.20" font-size="18.00" font-weight="normal" fill="#444" textLength="55.01" lengthAdjust="spacingAndGlyphs">46.962</text>
<text x="1261.90" y="283.00" font-size="18.00" font-weight="normal" fill="#444" textLength="20.17" lengthAdjust="spacingAndGlyphs">Vp</text>
<text x="1401.04" y="283.00" font-size="18.00" font-weight="normal" fill="#444" textLength="55.30" lengthAdjust="spacingAndGlyphs">35.657</text>
<text x="1565.82" y="283.00" font-size="18.00" font-weight="normal" fill="#444" textLength="55.01" lengthAdjust="spacingAndGlyphs">44.917</text>
<text x="1264.57" y="334.50" font-size="18.00" font-weight="normal" fill="#444" textLength="13.80" lengthAdjust="spacingAndGlyphs">Q</text>
<text x="1406.01" y="334.50" font-size="18.00" font-weight="normal" fill="#444" textLength="44.78" lengthAdjust="spacingAndGlyphs">6.500</text>
<text x="1570.51" y="334.50" font-size="18.00" font-weight="normal" fill="#444" textLength="44.78" lengthAdjust="spacingAndGlyphs">6.500</text>
<text x="1262.19" y="724.80" font-size="18.00" font-weight="normal" fill="#444" textLength="18.40" lengthAdjust="spacingAndGlyphs">Cl</text>
<text x="1406.57" y="724.80" font-size="18.00" font-weight="normal" fill="#444" textLength="44.50" lengthAdjust="spacingAndGlyphs">4.951</text>
<text x="1571.07" y="724.80" font-size="18.00" font-weight="normal" fill="#444" textLength="44.50" lengthAdjust="spacingAndGlyphs">4.786</text>
<text x="1262.50" y="773.30" font-size="18.00" font-weight="normal" fill="#444" textLength="18.24" lengthAdjust="spacingAndGlyphs">Vc</text>
<text x="1401.04" y="773.30" font-size="18.00" font-weight="normal" fill="#444" textLength="55.01" lengthAdjust="spacingAndGlyphs">33.150</text>
<text x="1565.54" y="773.30" font-size="18.00" font-weight="normal" fill="#444" textLength="55.30" lengthAdjust="spacingAndGlyphs">33.555</text>
<text x="1368.43" y="415.50" font-size="17.60" font-weight="normal" fill="#2b2b2b" textLength="134.93" lengthAdjust="spacingAndGlyphs">Cập nhật thông số</text>
<text x="1368.42" y="847.50" font-size="17.60" font-weight="normal" fill="#2b2b2b" textLength="135.13" lengthAdjust="spacingAndGlyphs">Cập nhật thông số</text>
</svg>
</body></html>
